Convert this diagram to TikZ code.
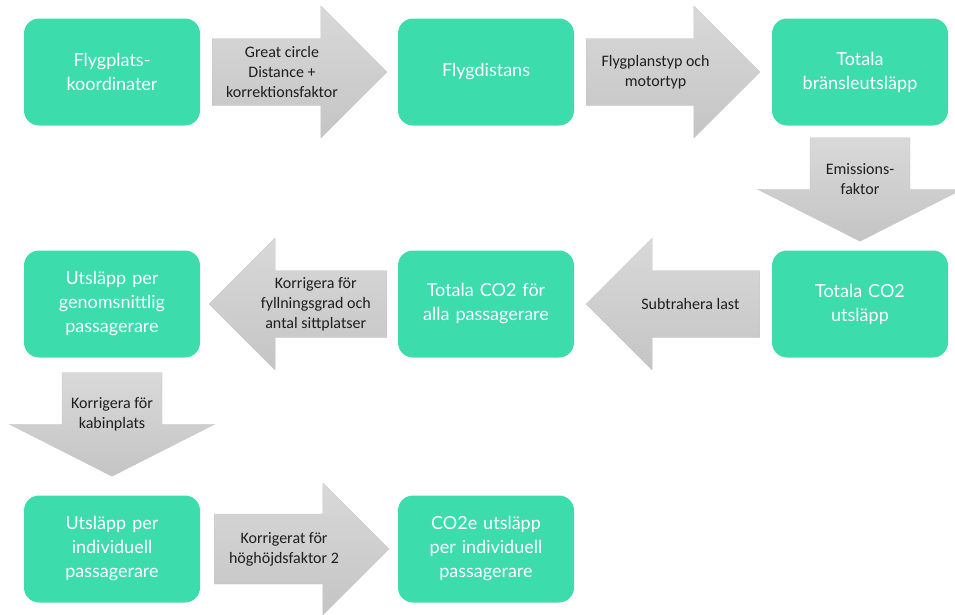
\documentclass[tikz,border=0pt]{standalone}
\usepackage{fontspec}
\setmainfont{Carlito}
\newfontfamily\boxfont{Lato}
\usetikzlibrary{calc}

\definecolor{flowgreen}{RGB}{61,220,172}
\definecolor{arrowtxt}{RGB}{30,30,30}

\tikzset{
  flowbox/.style={fill=flowgreen, rounded corners=15pt, minimum width=176pt,
    minimum height=107pt, inner sep=0pt, text width=170pt, align=center,
    text=white, font=\boxfont\fontsize{18}{24}\selectfont},
  arrowfill/.style={top color=gray!30, bottom color=gray!46, draw=gray!45, line width=0.3pt},
  arrowtext/.style={align=center, text=arrowtxt, font=\fontsize{16}{20}\selectfont}
}

% tail, tip, half body, half head, head length, label
\newcommand{\blockarrow}[6]{%
  \coordinate (bt) at (#1);
  \coordinate (bh) at (#2);
  \coordinate (bb) at ($(bh)!#5pt!(bt)$);
  \shade[arrowfill] ($(bt)!#3pt!90:(bh)$) -- ($(bb)!#3pt!90:(bh)$)
    -- ($(bb)!#4pt!90:(bh)$) -- (bh) -- ($(bb)!#4pt!-90:(bh)$)
    -- ($(bb)!#3pt!-90:(bh)$) -- ($(bt)!#3pt!-90:(bh)$) -- cycle;
  \node[arrowtext] at ($(bt)!0.4!(bh)$) {#6};
}

\begin{document}
\begin{tikzpicture}[x=1pt,y=-1pt]
  \useasboundingbox (0,0) rectangle (955,614);

  % row 1
  \node[flowbox] (koord) at (112,72) {Flygplats-\\koordinater};
  \node[flowbox] (distans) at (486,72) {Flygdistans};
  \node[flowbox] (bransle) at (860,72) {Totala\\bränsleutsläpp};
  % row 2
  \node[flowbox] (genomsn) at (112,304) {Utsläpp per\\genomsnittlig\\passagerare};
  \node[flowbox] (allapass) at (486,304) {Totala CO2 för\\alla passagerare};
  \node[flowbox] (utslapp) at (860,304) {Totala CO2\\utsläpp};
  % row 3
  \node[flowbox] (individ) at (112,549) {Utsläpp per\\individuell\\passagerare};
  \node[flowbox] (co2e) at (486,549) {CO2e utsläpp\\per individuell\\passagerare};

  \blockarrow{$(koord.east)+(12,0)$}{$(distans.west)+(-11,0)$}{33.5}{66}{66}{Great circle\\Distance +\\korrektionsfaktor}
  \blockarrow{$(distans.east)+(12,0)$}{$(bransle.west)+(-12,0)$}{33.5}{66}{66}{Flygplanstyp och\\motortyp}
  \blockarrow{$(bransle.south)+(0,12)$}{$(utslapp.north)+(0,-9)$}{50}{102.5}{52}{Emissions-\\faktor}
  \blockarrow{$(utslapp.west)+(-12,0)$}{$(allapass.east)+(12,0)$}{33.5}{66}{66}{Subtrahera last}
  \blockarrow{$(allapass.west)+(-11,0)$}{$(genomsn.east)+(9,0)$}{33.5}{66}{66}{Korrigera för\\fyllningsgrad och\\antal sittplatser}
  \blockarrow{$(genomsn.south)+(0,15)$}{$(individ.north)+(0,-19)$}{50}{102.5}{52}{Korrigera för\\kabinplats}
  \blockarrow{$(individ.east)+(14,0)$}{$(co2e.west)+(-9,0)$}{35}{66}{66}{Korrigerat för\\höghöjdsfaktor 2}
\end{tikzpicture}
\end{document}
